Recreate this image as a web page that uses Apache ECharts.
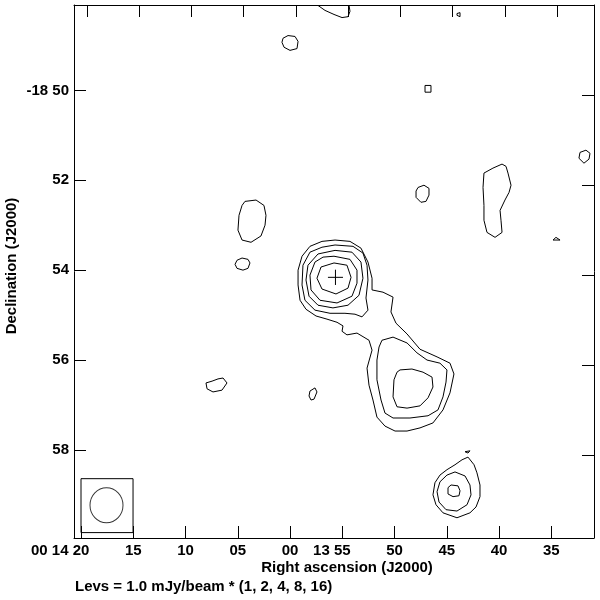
<!DOCTYPE html>
<html>
<head>
<meta charset="utf-8">
<title>Radio contour map</title>
<script src="https://cdn.jsdelivr.net/npm/echarts@6/dist/echarts.min.js"></script>
<style>
html, body { margin: 0; padding: 0; background: #fff; }
#chart { width: 600px; height: 600px; }
</style>
</head>
<body>
<div id="chart"></div>
<script>
// x = RA seconds past 00h13m, y = Dec arcmin south of -18 deg
const raTicks = [80, 75, 70, 65, 60, 55, 50, 45, 40, 35];
const raSec = ['20', '15', '10', '05', '00', '55', '50', '45', '40', '35'];
// hours/minutes written to the left of the seconds where they change
const raPrefixTicks = [80, 55];
const raPrefix = ['00 14 ', '13 '];
const decTicks = [50, 52, 54, 56, 58];
const decLabels = ['-18 50', '52', '54', '56', '58'];
// the grid is turned a little: top and right ticks sit off the bottom/left ones
const raTopShift = -0.57;
const decRightTicks = [48.11, 50.11, 52.11, 54.11, 56.11, 58.11];

// main source, levels 16, 8, 4, 2, 1 (the 1 level takes in the tail)
const main16 = [[55.79,53.84],[54.55,53.89],[54.16,54.16],[54.45,54.40],[55.60,54.53],[56.94,54.42],[57.42,54.18],[57.03,53.93]];
const main8 = [[55.79,53.69],[54.26,53.76],[53.59,54.00],[53.59,54.29],[54.07,54.58],[55.50,54.73],[57.13,54.67],[57.99,54.44],[58.09,54.11],[57.61,53.82],[56.84,53.71]];
const main4 = [[55.69,53.56],[54.07,53.60],[53.21,53.82],[53.02,54.18],[53.40,54.56],[54.45,54.78],[55.89,54.84],[57.32,54.78],[58.18,54.58],[58.47,54.22],[58.28,53.89],[57.32,53.64]];
const main2 = [[55.69,53.44],[53.97,53.47],[53.02,53.62],[52.63,53.89],[52.54,54.22],[52.73,54.62],[52.54,54.89],[53.11,55.04],[53.78,54.98],[54.74,54.96],[56.17,54.96],[57.61,54.89],[58.57,54.67],[58.85,54.33],[58.76,53.89],[58.09,53.60],[56.94,53.49]];
const main1 = [[55.69,53.33],[54.26,53.36],[53.21,53.51],[52.54,53.82],[52.15,54.18],[52.15,54.44],[51.10,54.49],[50.14,54.60],[50.34,54.93],[49.86,55.18],[48.80,55.42],[47.56,55.76],[45.93,55.93],[44.69,56.07],[44.31,56.31],[44.69,56.73],[45.36,57.11],[46.32,57.40],[47.56,57.51],[48.80,57.58],[49.95,57.58],[50.91,57.47],[51.68,57.27],[52.06,56.89],[52.44,56.56],[52.63,56.18],[52.15,55.78],[52.44,55.56],[53.59,55.40],[54.55,55.44],[55.02,55.36],[54.93,55.24],[55.50,55.16],[56.46,55.09],[57.51,55.02],[58.47,54.87],[59.04,54.67],[59.23,54.33],[59.23,54.00],[58.85,53.69],[58.09,53.47],[56.94,53.36]];
const tail2 = [[51.20,55.56],[50.14,55.49],[48.80,55.62],[47.85,55.84],[46.89,56.00],[45.65,56.07],[44.98,56.22],[45.07,56.49],[45.36,56.82],[45.84,57.11],[46.79,57.24],[48.52,57.29],[50.14,57.29],[50.91,57.18],[51.29,56.89],[51.68,56.44],[51.68,56.00],[51.48,55.71]];
const tail4 = [[49.47,56.22],[48.33,56.20],[47.27,56.27],[46.41,56.38],[46.32,56.60],[46.79,56.84],[47.56,57.02],[48.80,57.07],[49.76,57.04],[50.14,56.82],[50.05,56.44],[49.76,56.27]];

// southern source, levels 1, 2, 4
const south1 = [[42.97,58.16],[42.39,58.33],[42.11,58.51],[41.82,58.78],[41.82,59.04],[42.20,59.27],[42.78,59.40],[44.02,59.51],[45.36,59.40],[46.03,59.22],[46.32,59.00],[46.13,58.73],[45.65,58.56],[44.98,58.44],[44.21,58.33],[43.54,58.22]];
const south2 = [[44.21,58.49],[43.25,58.58],[42.78,58.78],[42.68,59.00],[43.06,59.22],[44.02,59.36],[45.07,59.33],[45.74,59.16],[45.93,58.93],[45.65,58.71],[44.98,58.56]];
const south4 = [[44.59,58.78],[43.92,58.80],[43.73,58.91],[43.83,59.02],[44.40,59.04],[44.88,58.98],[44.88,58.84]];
const southSpot = [[43.25,58.04],[43.06,58.00],[42.78,58.02],[42.97,58.07]];

// lone 1-level islands
const islandA = [[64.31,52.47],[63.25,52.44],[62.49,52.56],[62.30,52.78],[62.39,53.00],[62.78,53.24],[63.73,53.38],[64.59,53.33],[64.98,53.11],[64.88,52.78],[64.59,52.56]];
const islandB = [[65.26,53.87],[65.07,53.78],[64.59,53.73],[64.02,53.76],[63.83,53.84],[64.02,53.96],[64.50,54.00],[65.07,53.96]];
const islandC = [[60.67,48.84],[60.19,48.78],[59.52,48.80],[59.23,48.91],[59.33,49.07],[60.00,49.11],[60.57,49.04],[60.77,48.93]];
const edgeArc = [[57.32,48.11],[56.65,48.22],[55.79,48.31],[55.02,48.38],[54.45,48.36],[54.26,48.24],[54.35,48.11]];
const islandD = [[44.02,48.29],[43.73,48.27],[43.54,48.31],[43.73,48.36],[44.02,48.33]];
const islandE = [[47.08,49.89],[46.51,49.89],[46.51,50.04],[47.08,50.04]];
const islandF = [[47.75,52.16],[47.18,52.11],[46.70,52.18],[46.70,52.33],[46.99,52.47],[47.47,52.49],[47.94,52.38],[47.94,52.24]];
const islandG = [[39.71,51.64],[40.58,51.73],[41.44,51.84],[41.53,52.16],[41.44,52.56],[41.44,52.89],[41.15,53.16],[40.38,53.27],[39.71,53.16],[39.81,52.89],[39.90,52.67],[39.43,52.44],[39.04,52.27],[38.85,52.11],[39.14,51.84],[39.33,51.69]];
const islandH = [[32.25,51.38],[31.68,51.33],[31.29,51.40],[31.39,51.53],[31.87,51.62],[32.35,51.51]];
const islandI = [[34.83,53.33],[34.55,53.27],[34.16,53.33]];
const islandJ = [[66.41,56.40],[66.03,56.51],[66.51,56.67],[67.37,56.71],[67.94,56.64],[68.04,56.51],[67.46,56.47],[66.89,56.42]];
const islandK = [[57.61,56.62],[57.42,56.71],[57.70,56.87],[57.99,56.89],[58.18,56.80],[58.09,56.69]];

// optical position cross and restoring beam
const crossH = [[56.37,54.16],[54.93,54.16]];
const crossV = [[55.65,53.99],[55.65,54.33]];
const beamBox = [[80.00,58.64],[75.02,58.64],[75.02,59.84],[80.00,59.84],[80.00,58.64]];
const beamCentre = [[77.56,59.23]];

const closedContours = [main16, main8, main4, main2, main1, tail2, tail4,
  south1, south2, south4, southSpot,
  islandA, islandB, islandC, islandD, islandE, islandF, islandG, islandH, islandI, islandJ, islandK];
const openLines = [edgeArc, crossH, crossV, beamBox];

const font = '"Liberation Sans", Arial, sans-serif';
const labelFont = { fontFamily: font, fontSize: 15, fontWeight: 'bold', color: '#000' };

const lineSeries = (pts) => ({
  type: 'line',
  data: pts,
  symbol: 'none',
  silent: true,
  lineStyle: { color: '#000', width: 1 },
  z: 3
});

const series = closedContours.map(c => lineSeries(c.concat([c[0]])))
  .concat(openLines.map(lineSeries));
series.push({
  type: 'scatter',
  data: beamCentre,
  symbol: 'circle',
  symbolSize: [33, 35],
  silent: true,
  itemStyle: { color: 'rgba(0,0,0,0)', borderColor: '#000', borderWidth: 1 }
});

const lookup = (ticks, labels) => (v) => {
  const i = ticks.findIndex(t => Math.abs(t - v) < 1e-6);
  return i < 0 ? '' : labels[i];
};

const raRange = { type: 'value', inverse: true, min: 30.91, max: 80.67, splitLine: { show: false } };
const decRange = { type: 'value', inverse: true, min: 48.1, max: 59.96, splitLine: { show: false } };
const frameLine = { show: true, lineStyle: { color: '#000', width: 1 } };

const chart = echarts.init(document.getElementById('chart'));
chart.setOption({
  animation: false,
  backgroundColor: '#fff',
  grid: { left: 74, right: 6, top: 5, bottom: 62 },
  xAxis: [
    Object.assign({}, raRange, {
      position: 'bottom',
      axisLine: frameLine,
      axisTick: { show: true, inside: true, length: 12, customValues: raTicks, lineStyle: { color: '#000' } },
      axisLabel: Object.assign({
        show: true, margin: 5, customValues: raTicks,
        showMinLabel: true, showMaxLabel: true,
        formatter: lookup(raTicks, raSec)
      }, labelFont)
    }),
    Object.assign({}, raRange, {
      position: 'top',
      axisLine: frameLine,
      axisTick: { show: true, inside: true, length: 12, customValues: raTicks.map(t => t + raTopShift), lineStyle: { color: '#000' } },
      axisLabel: { show: false }
    }),
    Object.assign({}, raRange, {
      position: 'bottom',
      axisLine: { show: false },
      axisTick: { show: false },
      axisLabel: Object.assign({
        show: true, margin: 5, customValues: raPrefixTicks,
        showMinLabel: true, showMaxLabel: true,
        align: 'right', padding: [0, 8.3, 0, 0],
        formatter: lookup(raPrefixTicks, raPrefix)
      }, labelFont)
    })
  ],
  yAxis: [
    Object.assign({}, decRange, {
      position: 'left',
      axisLine: frameLine,
      axisTick: { show: true, inside: true, length: 12, customValues: decTicks, lineStyle: { color: '#000' } },
      axisLabel: Object.assign({
        show: true, margin: 5, customValues: decTicks,
        showMinLabel: true, showMaxLabel: true,
        formatter: lookup(decTicks, decLabels)
      }, labelFont)
    }),
    Object.assign({}, decRange, {
      position: 'right',
      axisLine: frameLine,
      axisTick: { show: true, inside: true, length: 12, customValues: decRightTicks, lineStyle: { color: '#000' } },
      axisLabel: { show: false }
    })
  ],
  graphic: [
    { type: 'text', x: 347, y: 568, style: { text: 'Right ascension (J2000)', align: 'center', verticalAlign: 'middle', fill: '#000', font: 'bold 15px ' + font } },
    { type: 'text', x: 12, y: 266, rotation: Math.PI / 2, style: { text: 'Declination (J2000)', align: 'center', verticalAlign: 'middle', fill: '#000', font: 'bold 15px ' + font } },
    { type: 'text', x: 75, y: 587, style: { text: 'Levs = 1.0 mJy/beam * (1, 2, 4, 8, 16)', align: 'left', verticalAlign: 'middle', fill: '#000', font: 'bold 15px ' + font } }
  ],
  series: series
});
</script>
</body>
</html>
